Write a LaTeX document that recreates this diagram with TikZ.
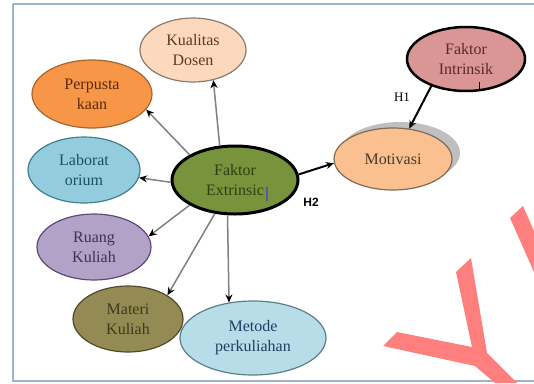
\documentclass[tikz,border=0pt]{standalone}
\usepackage{fontspec}
\setmainfont{Liberation Serif}
\newfontfamily\hfont{Liberation Sans}
\usetikzlibrary{shapes.geometric,arrows.meta}
\definecolor{frameblue}{HTML}{9DB3CF}
\definecolor{kualF}{HTML}{FCD9BC}\definecolor{kualD}{HTML}{8C7A6B}\definecolor{kualT}{HTML}{5A3A2A}
\definecolor{perpF}{HTML}{F79646}\definecolor{perpD}{HTML}{A8642E}\definecolor{perpT}{HTML}{5A2A10}
\definecolor{labF}{HTML}{93CDDD}\definecolor{labD}{HTML}{3F7F8F}\definecolor{labT}{HTML}{1F4E5F}
\definecolor{ruaF}{HTML}{B3A2C7}\definecolor{ruaD}{HTML}{5F497A}\definecolor{ruaT}{HTML}{3F2F5F}
\definecolor{matF}{HTML}{948A54}\definecolor{matD}{HTML}{4F4A2A}\definecolor{matT}{HTML}{3F3A1A}
\definecolor{metF}{HTML}{B7DEE8}\definecolor{metD}{HTML}{5A7F88}\definecolor{metT}{HTML}{1F3F5F}
\definecolor{feF}{HTML}{77933C}\definecolor{feT}{HTML}{2F3F10}
\definecolor{motF}{HTML}{FAC090}\definecolor{motD}{HTML}{7F6A55}\definecolor{motT}{HTML}{4A3A2A}
\definecolor{fiF}{HTML}{D99694}\definecolor{fiT}{HTML}{5A2A2A}
\definecolor{shad}{HTML}{BFBFBF}
\definecolor{wm}{HTML}{FF7F7F}
\definecolor{arrgray}{HTML}{808080}
\tikzset{
  bub/.style={ellipse, draw, line width=1.2pt, inner sep=0pt, align=center,
    font=\fontsize{16}{20}\selectfont},
  thinarr/.style={draw=arrgray, line width=1.5pt, -{Stealth[length=8pt,width=7pt,color=black]}},
  thickarr/.style={draw=black, line width=2pt, -{Stealth[length=8pt,width=7pt]}}
}
\begin{document}
\begin{tikzpicture}[x=1pt,y=-1pt]
\useasboundingbox (0,0) rectangle (534,383);
% frame
\draw[frameblue, line width=2.5pt] (13,4) -- (540,4);
\draw[frameblue, line width=2pt] (13,4) -- (13,381) -- (540,381);
% shadow of Motivasi
\fill[shad] (400,153) ellipse [x radius=60, y radius=31];
% nodes
\node[bub, fill=kualF, draw=kualD, text=kualT, minimum width=106, minimum height=64] (kual) at (193,50) {Kualitas\\Dosen};
\node[bub, fill=perpF, draw=perpD, text=perpT, minimum width=120, minimum height=68] (perp) at (92,94) {Perpusta\\kaan};
\node[bub, fill=labF, draw=labD, text=labT, minimum width=112, minimum height=66] (lab) at (84,170) {Laborat\\orium};
\node[bub, fill=ruaF, draw=ruaD, text=ruaT, minimum width=114, minimum height=66] (rua) at (94,247) {Ruang\\Kuliah};
\node[bub, fill=matF, draw=matD, text=matT, minimum width=110, minimum height=66] (mat) at (128,319) {Materi\\Kuliah};
\node[bub, fill=metF, draw=metD, text=metT, minimum width=146, minimum height=74] (met) at (253,338) {Metode\\perkuliahan};
\node[bub, fill=feF, draw=black, line width=3pt, text=feT, minimum width=126, minimum height=68] (fe) at (235,180) {Faktor\\Extrinsic};
\node[bub, fill=motF, draw=motD, text=motT, minimum width=118, minimum height=62] (mot) at (393,159) {Motivasi};
\node[bub, fill=fiF, draw=black, line width=2.5pt, text=fiT, minimum width=118, minimum height=64] (fi) at (466,59) {Faktor\\Intrinsik};
% small marks
\draw[gray!70!blue, line width=2pt] (267,187) -- (267,201);
\draw[black, line width=1pt] (479,82) -- (479,90);
% connectors
\draw[thinarr] (fe.114) -- (kual.304);
\draw[thinarr] (fe.151) -- (perp.344);
\draw[thinarr] (fe.182) -- (lab.352);
\draw[thinarr] (fe.209) -- (rua.11);
\draw[thinarr] (fe.239) -- (mat.31);
\draw[thinarr] (fe.258) -- (met.124);
\draw[thickarr] (fe.5) -- (mot.184);
\draw[thickarr] (fi.218) -- (mot.62);
% labels
\node[font=\fontsize{13}{15}\selectfont, inner sep=0pt] (h1) at (402,97) {H1};
\node[font=\hfont\bfseries\fontsize{12}{14}\selectfont, inner sep=0pt] (h2) at (311,202) {H2};
% watermark
\fill[wm] (383,346) -- (397,332) -- (472,347) -- (456,272) -- (471,258) -- (487,353) -- (517,383) -- (495,383) -- (475,366) -- cycle;
\fill[wm] (510,218) -- (523,206) -- (534,231) -- (534,272) -- cycle;
\end{tikzpicture}
\end{document}
